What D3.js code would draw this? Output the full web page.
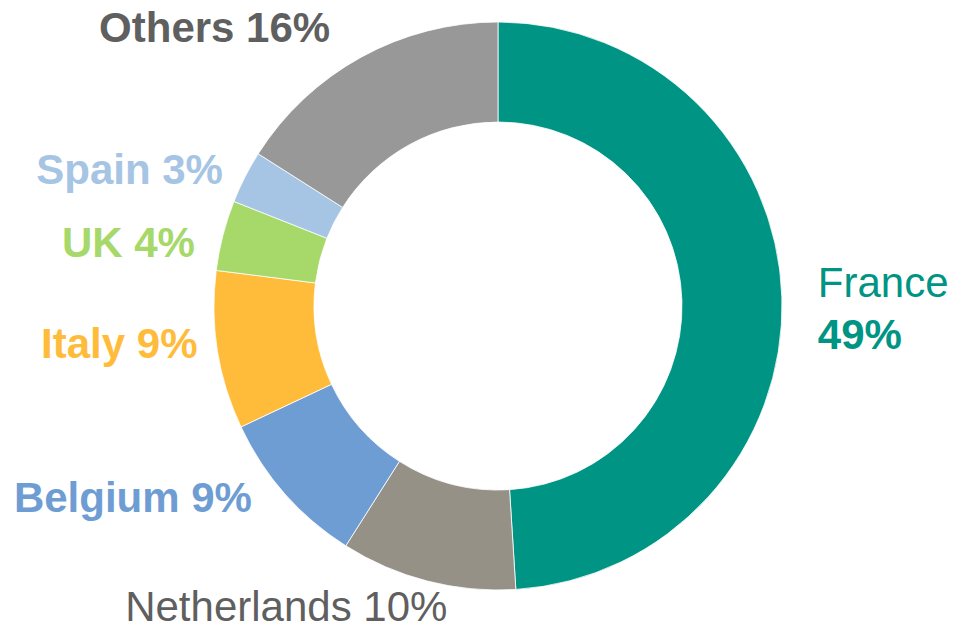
<!DOCTYPE html>
<html><head><meta charset="utf-8">
<script src="https://cdn.jsdelivr.net/npm/d3@7"></script>
<style>html,body{margin:0;padding:0;background:#fff;}svg{display:block;}</style>
</head><body>
<script>
const categories = ["France","Netherlands","Belgium","Italy","UK","Spain","Others"];
const values = [49,10,9,9,4,3,16];
const colors = ["#009485","#959187","#6e9dd3","#ffbc3b","#a6d86a","#a6c4e3","#989898"];
const labelColors = ["#009485","#5f5f5f","#6e9dd3","#ffbc3b","#a6d86a","#a6c4e3","#5f5f5f"];
const labelBold = [false,false,true,true,true,true,true];

const W=953,H=630, cx=498, cy=306, R=284, r0=184;
const svg=d3.select("body").append("svg").attr("width",W).attr("height",H);
const g=svg.append("g").attr("transform",`translate(${cx},${cy})`);
const pie=d3.pie().sort(null).value(d=>d)(values);
const arc=d3.arc().innerRadius(r0).outerRadius(R);
g.selectAll("path").data(pie).join("path").attr("d",arc)
 .attr("fill",(d,i)=>colors[i]).attr("stroke","#fff").attr("stroke-width",0.8);

// label layout: relative to the outer point at each slice's mid angle
const nudge = {France:[36,5,"start"],Netherlands:[20,25,"end"],Belgium:[-33,4,"end"],Italy:[-20,-7,"end"],UK:[-28,7,"end"],Spain:[-22,-8,"end"],Others:[-31,-30,"end"]};
const fs=42;
pie.forEach((d,i)=>{
  const name=categories[i];
  const a=(d.startAngle+d.endAngle)/2;
  const ox=R*Math.sin(a), oy=-R*Math.cos(a);
  const [dx,dy,anchor]=nudge[name];
  const t=g.append("text").attr("x",ox+dx).attr("y",oy+dy)
    .attr("text-anchor",anchor).attr("dominant-baseline","central")
    .attr("font-family","Liberation Sans, Arial, sans-serif").attr("font-size",fs)
    .attr("fill",labelColors[i]);
  if(name==="France"){
    t.attr("dominant-baseline",null).attr("y",oy+dy-20);
    t.append("tspan").attr("x",ox+dx).attr("dy",0).text(name);
    t.append("tspan").attr("x",ox+dx).attr("dy",52).attr("font-weight","bold").text(values[i]+"%");
    t.attr("transform",`translate(0,${15})`);
  } else {
    t.attr("font-weight",labelBold[i]?"bold":"normal").text(name+" "+values[i]+"%");
  }
});
</script>
</body></html>
